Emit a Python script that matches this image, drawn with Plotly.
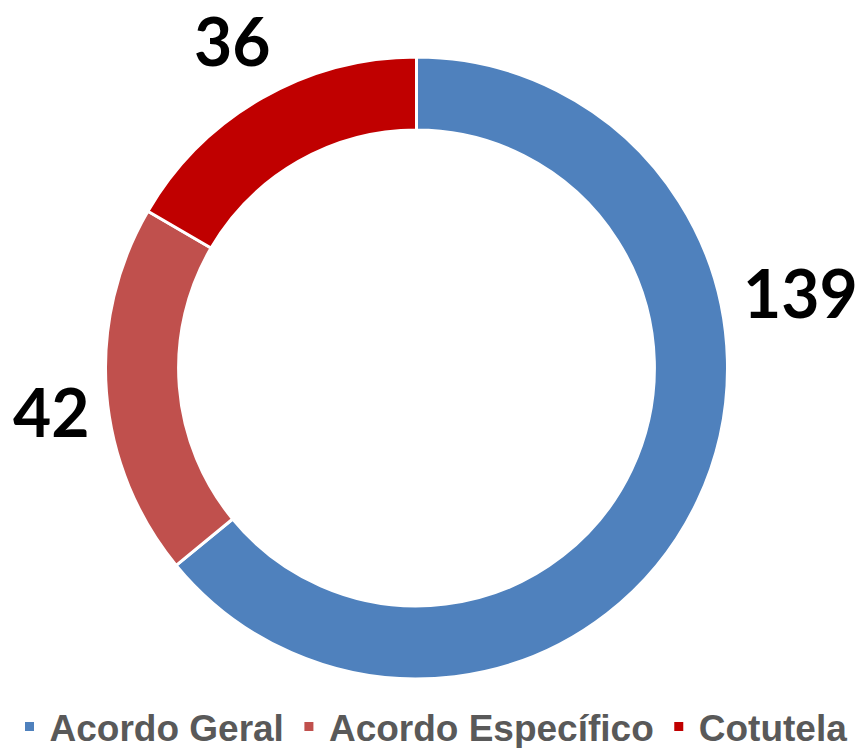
import plotly.graph_objects as go

categories = ["Acordo Geral", "Acordo Específico", "Cotutela"]
values = [139, 42, 36]
colors = ["#4F81BD", "#C0504D", "#C00000"]
# label anchor positions (paper fraction) for each category's value text
label_x = [0.9292, 0.0592, 0.2703]
label_y = [0.6096, 0.4505, 0.9455]

W, H = 862, 748
cx, cy, R = 416.5, 368, 311

fig = go.Figure(go.Pie(
    labels=categories,
    values=values,
    hole=0.765,
    sort=False,
    direction="clockwise",
    rotation=0,
    marker=dict(colors=colors, line=dict(color="white", width=3)),
    textinfo="none",
    hoverinfo="label+value",
    domain=dict(x=[(cx - R) / W, (cx + R) / W], y=[(H - cy - R) / H, (H - cy + R) / H]),
))

for v, x, y in zip(values, label_x, label_y):
    fig.add_annotation(
        text=str(v), x=x, y=y, xref="paper", yref="paper",
        showarrow=False, xanchor="center", yanchor="middle",
        font=dict(family="Lato", size=66, color="black", weight="bold"),
    )

fig.update_layout(
    width=W, height=H,
    margin=dict(l=0, r=0, t=0, b=0, autoexpand=False),
    paper_bgcolor="white",
    plot_bgcolor="white",
    showlegend=True,
    legend=dict(
        orientation="h", x=0.5, xanchor="center", y=0.028, yanchor="middle",
        font=dict(family="Liberation Sans, Arial", size=37, color="#595959", weight="bold"),
        itemwidth=30, tracegroupgap=0,
    ),
)

fig.write_html(
    "out.html",
    config={"displayModeBar": False},
    post_script="document.body.style.margin='0';document.body.style.overflow='hidden';",
)
